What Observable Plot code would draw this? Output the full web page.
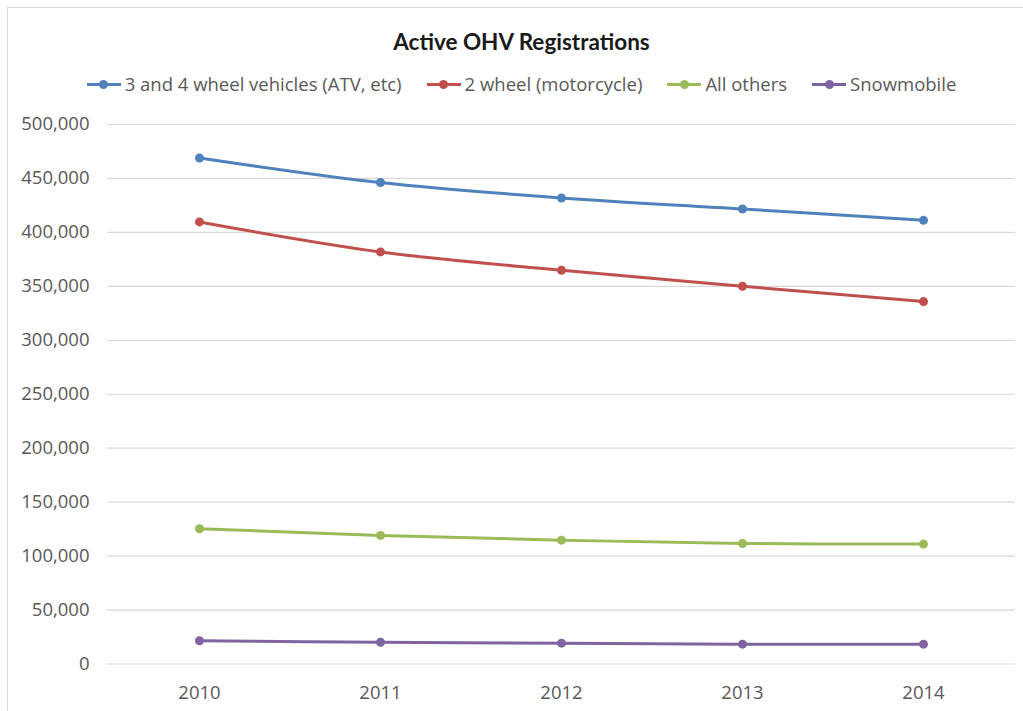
<!DOCTYPE html>
<html>
<head>
<meta charset="utf-8">
<script src="https://cdn.jsdelivr.net/npm/d3@7"></script>
<script src="https://cdn.jsdelivr.net/npm/@observablehq/plot@0.6"></script>
<style>
  html, body { margin: 0; padding: 0; background: #fff; }
  #wrap { position: relative; width: 1023px; height: 711px; overflow: hidden; background: #fff; }
  #frame { position: absolute; left: 7px; top: 7px; width: 1030px; height: 720px; border-left: 1.5px solid #d9d9d9; border-top: 1.5px solid #d9d9d9; box-sizing: border-box; }
  #title { position: absolute; left: 20px; right: 0; top: 28px; text-align: center; font-family: Lato, "Open Sans", sans-serif; font-weight: bold; font-size: 22.5px; line-height: 28px; color: #1a1a1a; }
  #legend { position: absolute; left: 20px; right: 0; top: 72px; display: flex; justify-content: center; gap: 25px; font-family: "Open Sans", sans-serif; font-size: 18.5px; line-height: 24px; color: #595959; }
  .item { display: flex; align-items: center; gap: 4px; white-space: nowrap; }
  .sw { position: relative; width: 34px; height: 24px; }
  .sw .ln { position: absolute; left: 0; right: 0; top: 10.5px; height: 3px; }
  .sw .dt { position: absolute; left: 12.5px; top: 7.5px; width: 9px; height: 9px; border-radius: 50%; }
  #chart { position: absolute; left: 0; top: 100px; }
</style>
</head>
<body>
<div id="wrap">
  <div id="frame"></div>
  <div id="title">Active OHV Registrations</div>
  <div id="legend"></div>
  <div id="chart"></div>
</div>
<script>
const years = ["2010", "2011", "2012", "2013", "2014"];
const seriesNames = ["3 and 4 wheel vehicles (ATV, etc)", "2 wheel (motorcycle)", "All others", "Snowmobile"];
const seriesColors = ["#4F81BD", "#C0504D", "#9BBB59", "#8064A2"];
const atv = [469000, 446200, 431900, 421700, 411200];
const motorcycle = [409700, 381900, 364900, 350100, 335900];
const allOthers = [125400, 119200, 114800, 111700, 111100];
const snowmobile = [21500, 20200, 19300, 18400, 18400];
const yTicks = [0, 50000, 100000, 150000, 200000, 250000, 300000, 350000, 400000, 450000, 500000];

const seriesValues = [atv, motorcycle, allOthers, snowmobile];
const data = [];
seriesNames.forEach((name, i) => {
  years.forEach((yr, j) => data.push({series: name, year: yr, value: seriesValues[i][j]}));
});

// legend
const legend = document.getElementById("legend");
seriesNames.forEach((name, i) => {
  const item = document.createElement("div");
  item.className = "item";
  const sw = document.createElement("span");
  sw.className = "sw";
  const ln = document.createElement("span");
  ln.className = "ln"; ln.style.background = seriesColors[i];
  const dt = document.createElement("span");
  dt.className = "dt"; dt.style.background = seriesColors[i];
  sw.appendChild(ln); sw.appendChild(dt);
  const tx = document.createElement("span");
  tx.textContent = name;
  item.appendChild(sw); item.appendChild(tx);
  legend.appendChild(item);
});

const chart = Plot.plot({
  width: 1023,
  height: 611,
  marginTop: 24,
  marginBottom: 47.5,
  marginLeft: 107,
  marginRight: 8,
  style: {fontFamily: "'Open Sans', sans-serif", fontSize: "18.5px", color: "#595959", background: "transparent", overflow: "visible"},
  x: {type: "point", domain: years, padding: 0.5, label: null},
  y: {domain: [0, 500000], label: null},
  color: {domain: seriesNames, range: seriesColors},
  marks: [
    Plot.ruleY(yTicks, {stroke: "#d9d9d9", strokeWidth: 1.2}),
    Plot.axisY({ticks: yTicks, tickFormat: d3.format(","), tickSize: 0, tickPadding: 18, label: null, fontSize: 18.5}),
    Plot.axisX({tickSize: 0, tickPadding: 22, label: null, fontSize: 18.5}),
    Plot.line(data, {x: "year", y: "value", z: "series", stroke: "series", strokeWidth: 3, curve: "catmull-rom"}),
    Plot.dot(data, {x: "year", y: "value", fill: "series", r: 4.5})
  ]
});
document.getElementById("chart").appendChild(chart);
</script>
</body>
</html>
